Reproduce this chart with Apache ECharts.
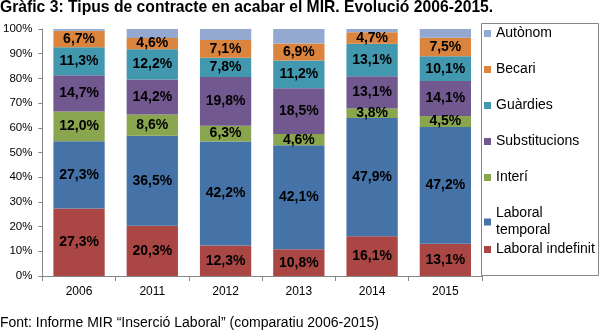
<!DOCTYPE html>
<html>
<head>
<meta charset="utf-8">
<script src="https://cdn.jsdelivr.net/npm/echarts@6/dist/echarts.min.js"></script>
<style>html,body{margin:0;padding:0;background:#fff}#c{width:600px;height:334px}</style>
</head>
<body>
<div id="c"></div>
<script>
const years = ['2006', '2011', '2012', '2013', '2014', '2015'];
const laboralIndefinit = [27.3, 20.3, 12.3, 10.8, 16.1, 13.1];
const laboralTemporal = [27.3, 36.5, 42.2, 42.1, 47.9, 47.2];
const interi = [12.0, 8.6, 6.3, 4.6, 3.8, 4.5];
const substitucions = [14.7, 14.2, 19.8, 18.5, 13.1, 14.1];
const guardies = [11.3, 12.2, 7.8, 11.2, 13.1, 10.1];
const becari = [6.7, 4.6, 7.1, 6.9, 4.7, 7.5];
const autonom = [0.7, 3.6, 4.5, 5.9, 1.3, 3.5];
const yTicks = ['0%', '10%', '20%', '30%', '40%', '50%', '60%', '70%', '80%', '90%', '100%'];

const FONT = 'Liberation Sans, Arial, sans-serif';
const seriesDefs = [
  { name: 'Laboral indefinit', data: laboralIndefinit, color: '#AA4643', label: true },
  { name: 'Laboral temporal', data: laboralTemporal, color: '#4572A7', label: true },
  { name: 'Interí', data: interi, color: '#89A54E', label: true },
  { name: 'Substitucions', data: substitucions, color: '#71588F', label: true },
  { name: 'Guàrdies', data: guardies, color: '#4198AF', label: true },
  { name: 'Becari', data: becari, color: '#DB843D', label: true },
  { name: 'Autònom', data: autonom, color: '#93A9CF', label: false }
];

const legendOrder = ['Autònom', 'Becari', 'Guàrdies', 'Substitucions', 'Interí', 'Laboral temporal', 'Laboral indefinit'];
const legendTops = [25, 61, 97, 133, 169, 205, 241];

const chart = echarts.init(document.getElementById('c'), null, { renderer: 'canvas' });
chart.setOption({
  animation: false,
  textStyle: { fontFamily: FONT },
  title: {
    text: 'Gràfic 3: Tipus de contracte en acabar el MIR. Evolució 2006-2015.',
    left: 0, top: 0, padding: 0,
    textStyle: { fontFamily: FONT, fontSize: 15.7, fontWeight: 'bold', color: '#000' }
  },
  grid: { left: 40, right: 118, top: 29, bottom: 58, containLabel: false },
  xAxis: {
    type: 'category',
    data: years,
    axisLine: { lineStyle: { color: '#868686', width: 1 } },
    axisTick: { show: true, length: 5, lineStyle: { color: '#868686' } },
    axisLabel: { color: '#000', fontSize: 12, margin: 10, fontFamily: FONT }
  },
  yAxis: {
    type: 'value',
    min: 0, max: 100, interval: 10,
    axisLine: { show: true, lineStyle: { color: '#868686', width: 1 } },
    axisTick: { show: true, length: 4, lineStyle: { color: '#868686' } },
    splitLine: { show: false },
    axisLabel: {
      color: '#000', fontSize: 11.5, margin: 10, fontFamily: FONT,
      formatter: v => yTicks[Math.round(v / 10)]
    }
  },
  legend: legendOrder.map((n, i) => ({
    data: [n],
    left: 484, top: legendTops[i],
    orient: 'vertical',
    icon: 'rect', itemWidth: 7, itemHeight: 7, itemGap: 4,
    padding: 0,
    selectedMode: false,
    textStyle: { fontSize: 14, color: '#000', fontFamily: FONT, lineHeight: 17 },
    formatter: name => name === 'Laboral temporal' ? 'Laboral\ntemporal' : name
  })),
  graphic: [
    { type: 'rect', shape: { x: 481.5, y: 23.5, width: 117, height: 252 },
      style: { fill: 'none', stroke: '#868686', lineWidth: 1 }, silent: true },
    { type: 'text', left: 0, top: 316,
      style: { text: 'Font: Informe MIR “Inserció Laboral” (comparatiu 2006-2015)', font: '14px ' + FONT, fill: '#000' } }
  ],
  series: seriesDefs.map(s => ({
    name: s.name,
    type: 'bar',
    stack: 'total',
    data: s.data,
    barCategoryGap: '30%',
    itemStyle: { color: s.color },
    label: {
      show: s.label,
      position: 'inside',
      color: '#000',
      fontSize: 14,
      fontWeight: 'bold',
      fontFamily: FONT,
      formatter: p => p.value.toFixed(1).replace('.', ',') + '%'
    }
  }))
});
</script>
</body>
</html>
